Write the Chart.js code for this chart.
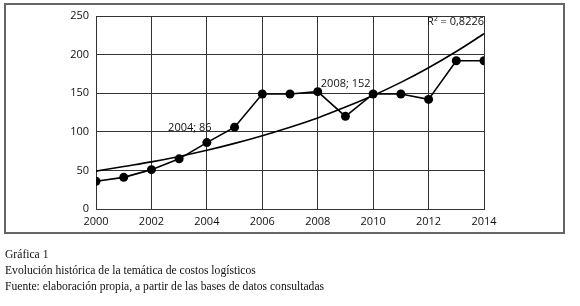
<!doctype html>
<html lang="es">
<head>
    <meta charset="utf-8">
    <title>Gráfica 1</title>
    <script src="https://cdn.jsdelivr.net/npm/chart.js"></script>
    <style>
        body { margin: 0; background: #fff; }
        .wrap { position: relative; width: 580px; height: 306px; }
        .wrap canvas { position: absolute; left: 0; top: 0; }
        .frame { position: absolute; left: 4px; top: 3px; width: 557px; height: 227px; border: 2px solid #666; pointer-events: none; }
        .cap { position: absolute; left: 5px; font-family: "Liberation Serif", "DejaVu Serif", serif; font-size: 11.6px; color: #111; white-space: nowrap; }
    </style>
</head>
<body>
    <div class="wrap">
        <canvas id="chart"></canvas>
        <div class="frame"></div>
        <div class="cap" style="top:248px">Gráfica 1</div>
        <div class="cap" style="top:264px">Evolución histórica de la temática de costos logísticos</div>
        <div class="cap" style="top:280px">Fuente: elaboración propia, a partir de las bases de datos consultadas</div>
    </div>
    <script>
        const years = [2000, 2001, 2002, 2003, 2004, 2005, 2006, 2007, 2008, 2009, 2010, 2011, 2012, 2013, 2014];
        const values = [36, 41, 51, 65, 86, 106, 149, 149, 152, 120, 149, 149, 142, 192, 192];
        // exponential trend line
        const trend = [49, 55, 61, 68, 76, 85, 95, 106, 118, 132, 147, 164, 183, 204, 227];
        const xTicks = [2000, 2002, 2004, 2006, 2008, 2010, 2012, 2014];
        const yTicks = [0, 50, 100, 150, 200, 250];
        const pointLabels = [[2004, 86, '2004; 86'], [2008, 152, '2008; 152']];
        const r2Text = 'R² = 0,8226';

        const font = '"Open Sans", "DejaVu Sans", sans-serif';

        const labelPlugin = {
            id: 'labels',
            afterDatasetsDraw(chart) {
                const ctx = chart.ctx;
                const xs = chart.scales.x, ys = chart.scales.y;
                ctx.save();
                ctx.font = '11px ' + font;
                ctx.fillStyle = '#111';
                ctx.textBaseline = 'middle';
                ctx.textAlign = 'center';
                // 2004 label sits up-left of its point, 2008 label up-right
                const offs = [[-17, -15], [28, -8]];
                pointLabels.forEach((p, i) => {
                    ctx.fillText(p[2], xs.getPixelForValue(p[0]) + offs[i][0], ys.getPixelForValue(p[1]) + offs[i][1]);
                });
                ctx.textAlign = 'right';
                ctx.fillText(r2Text, chart.chartArea.right, chart.chartArea.top + 6);
                ctx.restore();
            }
        };

        new Chart(document.getElementById('chart'), {
            type: 'line',
            data: {
                datasets: [{
                    data: years.map((y, i) => ({ x: y, y: values[i] })),
                    borderColor: '#000',
                    borderWidth: 1.6,
                    pointRadius: 4.5,
                    pointBackgroundColor: '#000',
                    pointBorderColor: '#000',
                    pointBorderWidth: 0,
                    tension: 0
                }, {
                    data: years.map((y, i) => ({ x: y, y: trend[i] })),
                    borderColor: '#000',
                    borderWidth: 1.6,
                    pointRadius: 0,
                    cubicInterpolationMode: 'monotone'
                }]
            },
            options: {
                responsive: true,
                maintainAspectRatio: false,
                animation: false,
                layout: { padding: { top: 16, right: 96, left: 0, bottom: 0 } },
                plugins: { legend: { display: false }, tooltip: { enabled: false } },
                scales: {
                    x: {
                        type: 'linear',
                        min: 2000,
                        max: 2014,
                        afterBuildTicks: (s) => { s.ticks = xTicks.map(v => ({ value: v })); },
                        afterFit: (s) => { s.height = 97; },
                        grid: { color: '#333', lineWidth: 1, drawTicks: false },
                        border: { color: '#333', width: 1 },
                        ticks: { color: '#111', padding: 6, font: { family: font, size: 11 }, callback: v => String(v) }
                    },
                    y: {
                        min: 0,
                        max: 250,
                        afterBuildTicks: (s) => { s.ticks = yTicks.map(v => ({ value: v })); },
                        afterFit: (s) => { s.width = 96; },
                        grid: { color: '#333', lineWidth: 1, drawTicks: false },
                        border: { color: '#333', width: 1 },
                        ticks: { color: '#111', padding: 7, font: { family: font, size: 11 } }
                    }
                }
            },
            plugins: [labelPlugin]
        });
    </script>
</body>
</html>
